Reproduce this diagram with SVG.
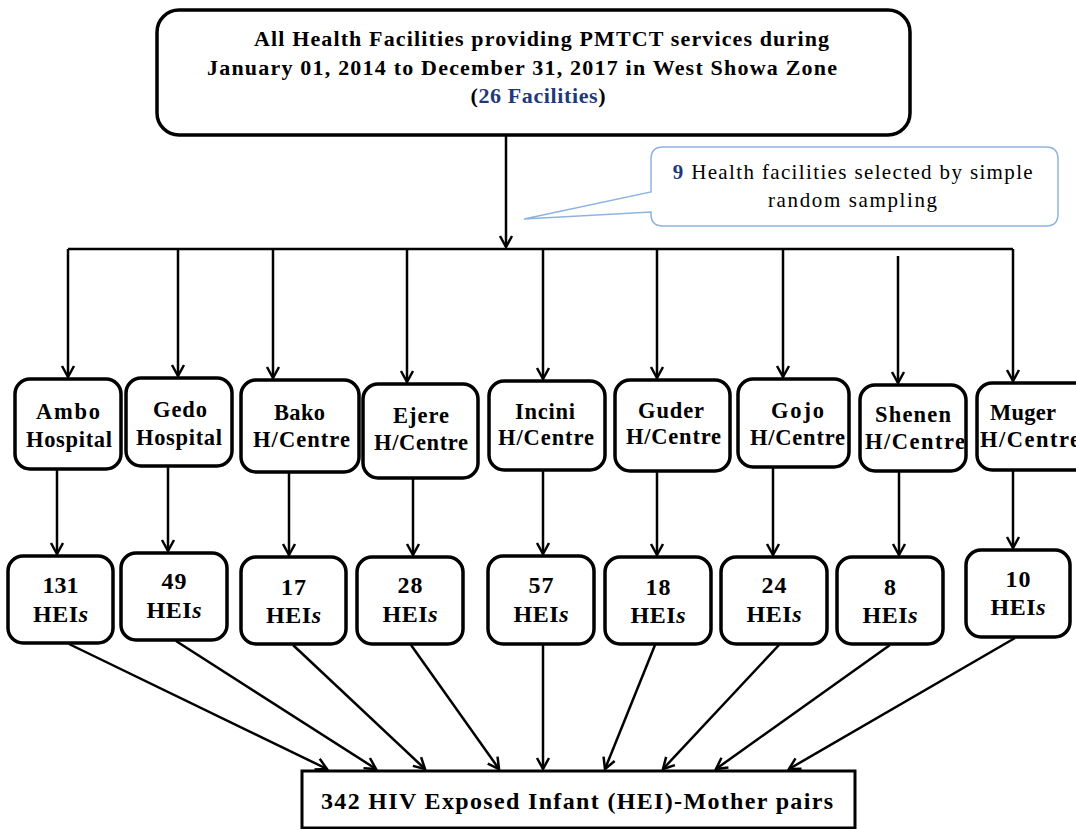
<svg xmlns="http://www.w3.org/2000/svg" width="1076" height="829" viewBox="0 0 1076 829">
<style>
.box{fill:#fff;stroke:#000;stroke-width:3.5}
.t{font-family:"Liberation Serif","Times New Roman",serif;font-weight:bold;fill:#000;text-anchor:middle}
.f{font-size:22.5px}
.h{font-size:24px}
.c{font-family:"Liberation Serif","Times New Roman",serif;font-size:21px;fill:#000;text-anchor:middle}
.navy{fill:#1F3A7A;font-weight:bold}
.ln{fill:none;stroke:#000;stroke-width:2.5;marker-end:url(#ah)}
</style>
<defs>
<marker id="ah" markerUnits="userSpaceOnUse" markerWidth="18" markerHeight="18" viewBox="-14 -9 16 18" refX="0" refY="0" orient="auto">
<path d="M-11,-6 L0,0 L-11,6" fill="none" stroke="#000" stroke-width="2.5"/>
</marker>
<clipPath id="clipShenen"><rect x="862" y="386" width="102" height="84"/></clipPath>
</defs>
<rect width="1076" height="829" fill="#fff"/>

<g id="top">
<rect class="box" x="157" y="10" width="753" height="125" rx="22" stroke-width="3"/>
<text class="t" font-size="22" x="541.5" y="46" textLength="575" lengthAdjust="spacing">All Health Facilities providing PMTCT services during</text>
<text class="t" font-size="22" x="522" y="75" textLength="630" lengthAdjust="spacing">January 01, 2014 to December 31, 2017 in West Showa Zone</text>
<text class="t" font-size="22" x="538" y="103" textLength="135" lengthAdjust="spacing">(<tspan class="navy">26 Facilities</tspan>)</text>
</g>

<g id="callout">
<path d="M663,147 H1046 Q1058,147 1058,159 V214 Q1058,226 1046,226 H663 Q651,226 651,214 V212 L524,219 L651,192 V159 Q651,147 663,147 Z" fill="#fff" stroke="#8DB3E2" stroke-width="1.5"/>
<text class="c" x="852.7" y="179" textLength="360" lengthAdjust="spacing"><tspan class="navy">9</tspan> Health facilities selected by simple</text>
<text class="c" x="852.5" y="207" textLength="169" lengthAdjust="spacing">random sampling</text>
</g>

<g id="connectors">
<path class="ln" d="M506,135 V247"/>
<path d="M68,249 H1013" fill="none" stroke="#000" stroke-width="2.5"/>
<path class="ln" d="M68,249 V377"/>
<path class="ln" d="M178,249 V376"/>
<path class="ln" d="M273,249 V378"/>
<path class="ln" d="M407,249 V382"/>
<path class="ln" d="M543,249 V379"/>
<path class="ln" d="M657,249 V378"/>
<path class="ln" d="M783,249 V377"/>
<path class="ln" d="M898,256 V383"/>
<path class="ln" d="M1013,249 V381"/>

<path class="ln" d="M57,469 V554"/>
<path class="ln" d="M168,466 V551"/>
<path class="ln" d="M289,472 V555"/>
<path class="ln" d="M413,478 V555"/>
<path class="ln" d="M543,470 V554"/>
<path class="ln" d="M657,471 V555"/>
<path class="ln" d="M773,467 V555"/>
<path class="ln" d="M899,471 V555"/>
<path class="ln" d="M1013,470 V548"/>

<path class="ln" d="M69,644 L327,769"/>
<path class="ln" d="M176,641 L376,769"/>
<path class="ln" d="M293,645 L425,769"/>
<path class="ln" d="M411,645 L499,769"/>
<path class="ln" d="M543,645 V769"/>
<path class="ln" d="M655,645 L605,769"/>
<path class="ln" d="M779,645 L663,769"/>
<path class="ln" d="M890,645 L716,769"/>
<path class="ln" d="M1015,638 L789,769"/>
</g>

<g id="fac-ambo">
<rect class="box" x="15" y="379" width="106" height="90" rx="15"/>
<text class="t f" x="68" y="419" textLength="64" lengthAdjust="spacing">Ambo</text>
<text class="t f" x="69" y="447" textLength="86" lengthAdjust="spacing">Hospital</text>
</g>
<g id="fac-gedo">
<rect class="box" x="126" y="378" width="106" height="88" rx="15"/>
<text class="t f" x="180" y="417" textLength="54" lengthAdjust="spacing">Gedo</text>
<text class="t f" x="179" y="445" textLength="86" lengthAdjust="spacing">Hospital</text>
</g>
<g id="fac-bako">
<rect class="box" x="241" y="380" width="118" height="92" rx="15"/>
<text class="t f" x="299.5" y="420" textLength="51" lengthAdjust="spacing">Bako</text>
<text class="t f" x="301.5" y="447" textLength="97" lengthAdjust="spacing">H/Centre</text>
</g>
<g id="fac-ejere">
<rect class="box" x="363" y="384" width="115" height="94" rx="15"/>
<text class="t f" x="421" y="423" textLength="56" lengthAdjust="spacing">Ejere</text>
<text class="t f" x="421" y="450" textLength="94" lengthAdjust="spacing">H/Centre</text>
</g>
<g id="fac-incini">
<rect class="box" x="489" y="381" width="116" height="89" rx="15"/>
<text class="t f" x="545" y="419" textLength="60" lengthAdjust="spacing">Incini</text>
<text class="t f" x="546" y="445" textLength="96" lengthAdjust="spacing">H/Centre</text>
</g>
<g id="fac-guder">
<rect class="box" x="615" y="380" width="115" height="91" rx="15"/>
<text class="t f" x="671" y="418" textLength="66" lengthAdjust="spacing">Guder</text>
<text class="t f" x="673.5" y="444" textLength="95" lengthAdjust="spacing">H/Centre</text>
</g>
<g id="fac-gojo">
<rect class="box" x="738" y="379" width="111" height="88" rx="15"/>
<text class="t f" x="797.5" y="418" textLength="53" lengthAdjust="spacing">Gojo</text>
<text class="t f" x="797.5" y="445" textLength="95" lengthAdjust="spacing">H/Centre</text>
</g>
<g id="fac-shenen">
<rect class="box" x="860" y="385" width="106" height="86" rx="15"/>
<text class="t f" x="913" y="422" textLength="76" lengthAdjust="spacing">Shenen</text>
<text class="t f" x="865" y="449" style="text-anchor:start" textLength="100" lengthAdjust="spacing" clip-path="url(#clipShenen)">H/Centre</text>
</g>
<g id="fac-muger">
<rect class="box" x="977" y="383" width="120" height="87" rx="15"/>
<text class="t f" x="1023" y="420" textLength="66" lengthAdjust="spacing">Muger</text>
<text class="t f" x="980" y="447" style="text-anchor:start" textLength="100" lengthAdjust="spacing">H/Centre</text>
</g>

<g id="hei-131">
<rect class="box" x="8" y="556" width="105" height="87" rx="15"/>
<text class="t h" x="60.5" y="593" textLength="36" lengthAdjust="spacing">131</text>
<text class="t h" x="60.5" y="622" textLength="55" lengthAdjust="spacing">HEI<tspan font-style="italic">s</tspan></text>
</g>
<g id="hei-49">
<rect class="box" x="121" y="553" width="106" height="87" rx="15"/>
<text class="t h" x="174" y="589" textLength="25" lengthAdjust="spacing">49</text>
<text class="t h" x="174" y="618" textLength="55" lengthAdjust="spacing">HEI<tspan font-style="italic">s</tspan></text>
</g>
<g id="hei-17">
<rect class="box" x="241" y="557" width="105" height="87" rx="15"/>
<text class="t h" x="293.5" y="595" textLength="25" lengthAdjust="spacing">17</text>
<text class="t h" x="293.5" y="623" textLength="55" lengthAdjust="spacing">HEI<tspan font-style="italic">s</tspan></text>
</g>
<g id="hei-28">
<rect class="box" x="357" y="557" width="106" height="87" rx="15"/>
<text class="t h" x="410" y="593" textLength="25" lengthAdjust="spacing">28</text>
<text class="t h" x="410" y="622" textLength="55" lengthAdjust="spacing">HEI<tspan font-style="italic">s</tspan></text>
</g>
<g id="hei-57">
<rect class="box" x="488" y="556" width="106" height="88" rx="15"/>
<text class="t h" x="541" y="593" textLength="25" lengthAdjust="spacing">57</text>
<text class="t h" x="541" y="622" textLength="55" lengthAdjust="spacing">HEI<tspan font-style="italic">s</tspan></text>
</g>
<g id="hei-18">
<rect class="box" x="605" y="557" width="106" height="87" rx="15"/>
<text class="t h" x="658" y="595" textLength="25" lengthAdjust="spacing">18</text>
<text class="t h" x="658" y="623" textLength="55" lengthAdjust="spacing">HEI<tspan font-style="italic">s</tspan></text>
</g>
<g id="hei-24">
<rect class="box" x="721" y="557" width="106" height="87" rx="15"/>
<text class="t h" x="774" y="593" textLength="25" lengthAdjust="spacing">24</text>
<text class="t h" x="774" y="622" textLength="55" lengthAdjust="spacing">HEI<tspan font-style="italic">s</tspan></text>
</g>
<g id="hei-8">
<rect class="box" x="837" y="557" width="106" height="87" rx="15"/>
<text class="t h" x="890" y="595">8</text>
<text class="t h" x="890" y="623" textLength="55" lengthAdjust="spacing">HEI<tspan font-style="italic">s</tspan></text>
</g>
<g id="hei-10">
<rect class="box" x="966" y="550" width="104" height="87" rx="15"/>
<text class="t h" x="1018" y="587" textLength="25" lengthAdjust="spacing">10</text>
<text class="t h" x="1018" y="615" textLength="55" lengthAdjust="spacing">HEI<tspan font-style="italic">s</tspan></text>
</g>

<g id="total">
<rect x="302" y="771" width="553" height="57" fill="#fff" stroke="#000" stroke-width="3"/>
<text class="t" font-size="24" x="577" y="809" textLength="512" lengthAdjust="spacing">342 HIV Exposed Infant (HEI)-Mother pairs</text>
</g>
</svg>
